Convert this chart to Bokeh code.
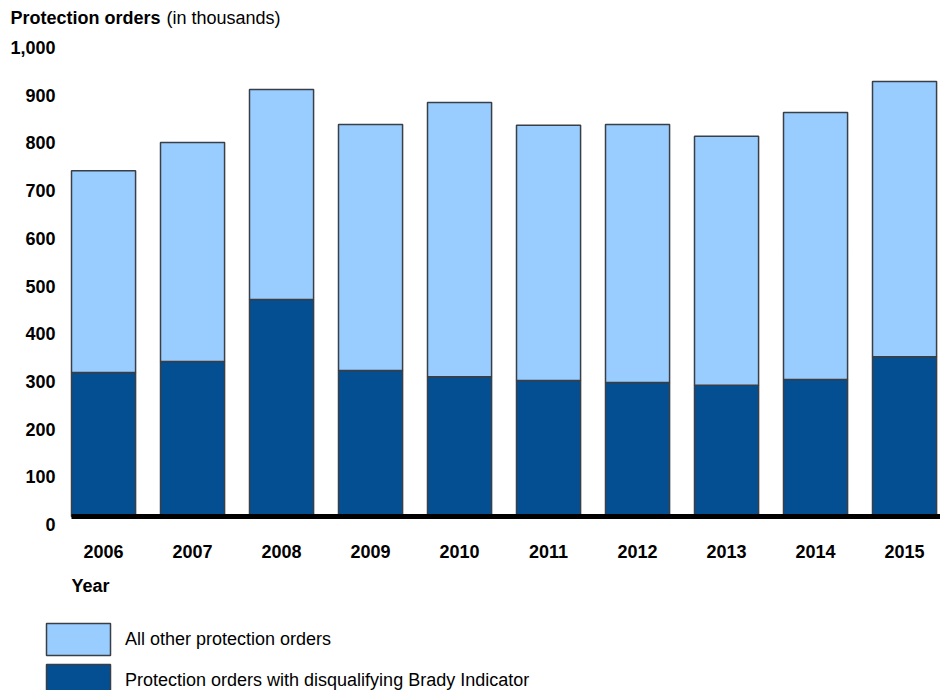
from bokeh.plotting import figure
from bokeh.models import (ColumnDataSource, FixedTicker, Legend, LegendItem, Label,
                          NumeralTickFormatter, LinearAxis, Range1d)
from bokeh.embed import file_html
from bokeh.resources import INLINE

years = ["2006", "2007", "2008", "2009", "2010", "2011", "2012", "2013", "2014", "2015"]
brady = [302, 325, 455, 306, 293, 285, 281, 275, 287, 335]
other = [423, 459, 440, 516, 575, 535, 541, 522, 560, 577]
y_ticks = [0, 100, 200, 300, 400, 500, 600, 700, 800, 900, 1000]

FONT = "Liberation Sans"
LIGHT = "#99CCFF"
DARK = "#044F92"
EDGE = "#3A3F45"

W, H = 940, 690
# frame covers whole canvas; axes are pinned inside it
KX = 89.0      # px per category
KY = 0.477     # px per unit
X0_PX, Y0_PX = 71, 516   # pixel of plot origin (left edge of first bar slot, zero line)
LABEL_DROP_PX = 8        # value labels sit slightly below their levels in the original
x_left = -0.36
x_start = x_left - X0_PX / KX
x_end = x_start + W / KX
y_end = Y0_PX / KY
y_start = -(H - Y0_PX) / KY
shift = LABEL_DROP_PX / KY

idx = list(range(len(years)))
src = ColumnDataSource(dict(x=idx, year=years, brady=brady, other=other))

p = figure(width=W, height=H, output_backend="svg", toolbar_location=None,
           x_range=(x_start, x_end), y_range=(y_start, y_end),
           y_axis_location=None, min_border=0)
p.extra_y_ranges = {"lab": Range1d(y_start + shift, y_end + shift)}

rs = p.vbar_stack(["brady", "other"], x="x", width=0.72, source=src,
                  fill_color=[DARK, LIGHT], line_color=EDGE, line_width=1.5)

p.xgrid.visible = False
p.ygrid.visible = False
p.outline_line_color = None

xa = p.xaxis[0]
xa.fixed_location = 0
xa.bounds = (x_left, len(years) - 0.6)
xa.ticker = FixedTicker(ticks=idx)
xa.major_label_overrides = {i: y for i, y in zip(idx, years)}
xa.axis_line_width = 5
xa.axis_line_color = "black"
xa.major_tick_line_color = None
xa.minor_tick_line_color = None
xa.major_label_standoff = 22
xa.major_label_text_font = FONT
xa.major_label_text_font_style = "bold"
xa.major_label_text_font_size = "18px"
xa.major_label_text_color = "black"

ya = LinearAxis(y_range_name="lab", fixed_location=x_left,
                ticker=FixedTicker(ticks=y_ticks), formatter=NumeralTickFormatter(format="0,0"),
                axis_line_color=None, major_tick_line_color=None, minor_tick_line_color=None,
                major_label_standoff=10, major_label_text_font=FONT,
                major_label_text_font_style="bold", major_label_text_font_size="18px",
                major_label_text_color="black")
p.add_layout(ya, "left")

p.add_layout(Label(x=10, y=H - 17, x_units="screen", y_units="screen", text="Protection orders",
                   text_font=FONT, text_font_style="bold", text_font_size="18px",
                   text_baseline="middle", text_color="black"))
p.add_layout(Label(x=166, y=H - 17, x_units="screen", y_units="screen", text="(in thousands)",
                   text_font=FONT, text_font_size="18px",
                   text_baseline="middle", text_color="black"))
p.add_layout(Label(x=71, y=H - 585, x_units="screen", y_units="screen", text="Year",
                   text_font=FONT, text_font_style="bold", text_font_size="18px",
                   text_baseline="middle", text_color="black"))

legend = Legend(items=[LegendItem(label="All other protection orders", renderers=[rs[1]]),
                       LegendItem(label="Protection orders with disqualifying Brady Indicator", renderers=[rs[0]])],
                location=(38, H - 700), orientation="vertical", padding=0, margin=0,
                glyph_width=80, glyph_height=40, spacing=1, label_standoff=7,
                label_text_font=FONT, label_text_font_size="18px", label_text_color="black",
                border_line_alpha=0, background_fill_alpha=0)
p.add_layout(legend, "center")

open("out.html", "w").write(file_html(p, INLINE))
